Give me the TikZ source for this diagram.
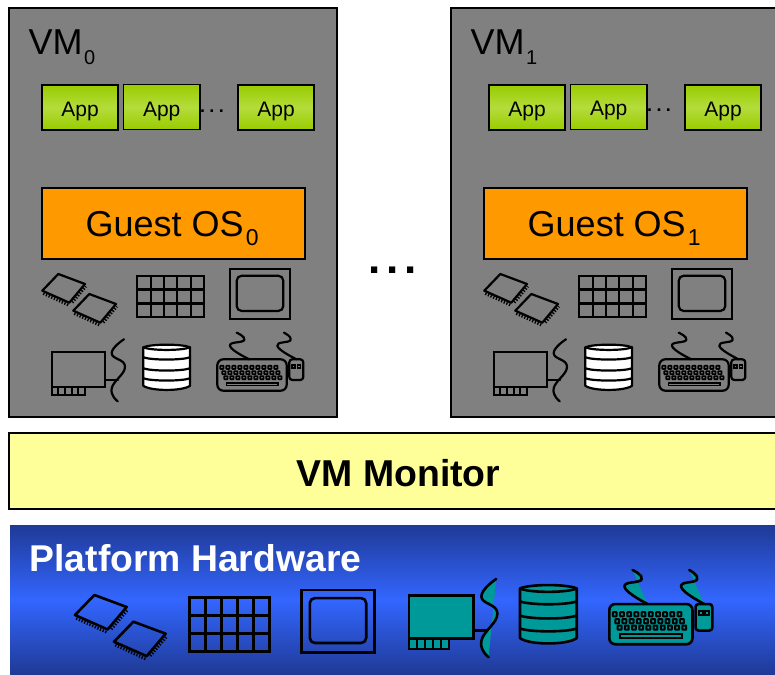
\documentclass[tikz,border=0pt]{standalone}
\usepackage{fontspec}
\setmainfont{Liberation Sans}
\definecolor{vmgray}{HTML}{808080}
\definecolor{osorange}{HTML}{FF9900}
\definecolor{monyellow}{HTML}{FFFF99}
\definecolor{appdark}{HTML}{99CC00}
\definecolor{applight}{HTML}{B4DC3C}
\definecolor{hwdark}{HTML}{1F3A96}
\definecolor{hwmid}{HTML}{3366FF}
\definecolor{hwteal}{HTML}{009999}
\tikzset{
  panel/.style={draw=black,line width=2pt,rectangle,inner sep=0pt,outer sep=0pt},
  vmbox/.style={panel,fill=vmgray,anchor=north west},
  appbox/.style={panel,line width=1.6pt,minimum width=76.5pt,minimum height=45pt,
    top color=appdark,bottom color=appdark,middle color=applight},
  apptext/.style={anchor=base,inner sep=0pt,font=\fontsize{21}{21}\selectfont},
  osbox/.style={panel,line width=1.6pt,fill=osorange,minimum width=263pt,minimum height=71pt},
  ostext/.style={anchor=base west,inner sep=0pt,font=\fontsize{36}{36}\selectfont},
  vmlabel/.style={anchor=base west,inner sep=0pt,font=\fontsize{36}{36}\selectfont},
  smalldots/.style={anchor=base,inner sep=0pt,font=\bfseries\fontsize{18}{18}\selectfont},
  icn/.style={draw=black,line width=2.2pt,line join=round,line cap=round},
  keyline/.style={draw=black,line width=1.7pt},
  solidfill/.style={},
  diskfill/.style={fill=white},
  hwicons/.style={solidfill/.style={fill=hwteal},diskfill/.style={fill=hwteal},
    icn/.style={draw=black,line width=2.6pt,line join=round,line cap=round},
    keyline/.style={draw=black,line width=2pt}}
}
\newcommand{\subfig}[3]{\hspace{#1}\raisebox{-0.27em}{\fontsize{#2}{#2}\selectfont #3}}
\newcommand{\chipicon}{%
  \draw[icn] (16,0) -- (42.7,10) -- (27,28.7) -- (0,16.7) -- cycle;
  \draw[black,line width=2.8pt,dash pattern=on 1.3pt off 1.6pt] (1,19.5) -- (26,31);
  \draw[black,line width=2.8pt,dash pattern=on 1.3pt off 1.6pt] (30,28.5) -- (43.5,12.5);
}
\newcommand{\gridicon}{%
  \draw[icn,line cap=butt,line join=miter] (0,0) rectangle (66.7,41.6);
  \foreach \i in {1,2,3,4}{\draw[icn,line cap=butt] (13.34*\i,0) -- (13.34*\i,41.6);}
  \foreach \j in {1,2}{\draw[icn,line cap=butt] (0,13.87*\j) -- (66.7,13.87*\j);}
}
\newcommand{\monicon}{%
  \draw[icn,line join=miter] (0,0) rectangle (60,49.4);
  \draw[icn,rounded corners=5pt] (6.7,6.4) rectangle (53.3,41.7);
}
\newcommand{\nicicon}{%
  \draw[icn,solidfill,line join=miter] (0,13) rectangle (53.3,47.4);
  \draw[icn,solidfill,line join=miter] (0,47.4) rectangle (33.3,55.7);
  \foreach \i in {1,2,3,4}{\draw[icn,line cap=butt] (6.66*\i,47.4) -- (6.66*\i,55.7);}
  \draw[icn] (53.3,40.7) -- (66.3,40.7);
  \draw[icn,solidfill] plot[smooth,tension=0.8] coordinates {(72.3,0) (60,14) (73.3,27.4) (60,49) (66,62)};
}
\newcommand{\diskicon}{%
  \draw[icn,diskfill] (0,5) .. controls (8,1.5) and (38.7,1.5) .. (46.7,5) -- (46.7,43.5)
    .. controls (38.7,49) and (8,49) .. (0,43.5) -- cycle;
  \draw[icn] (0,5) .. controls (8,8.5) and (38.7,8.5) .. (46.7,5);
  \foreach \y in {15,26,36}{\draw[icn] (0,\y) .. controls (8,\y+3) and (38.7,\y+3) .. (46.7,\y);}
}
\newcommand{\kbdicon}{%
  \draw[icn,solidfill] plot[smooth,tension=0.9] coordinates {(19.4,0) (27,7.3) (12.7,13.3) (32,26.6)};
  \draw[icn,solidfill] plot[smooth,tension=0.9] coordinates {(66.7,0) (73.3,7.3) (60,13.3) (79.3,26.6)};
  \draw[icn,solidfill,rounded corners=6pt] (0,26.6) rectangle (69.4,58);
  \foreach \n/\oy/\ox in {0/34.6/3,1/40/5,2/45/7}{
    \foreach \i in {0,...,9}{
      \draw[keyline,solidfill,rounded corners=0.5pt] (\ox+6*\i,\oy-1.6) rectangle ++(3.2,3.2);
    }
  }
  \draw[keyline,solidfill] (9.3,50) rectangle (60.7,52.8);
  \draw[icn,solidfill,rounded corners=3pt] (72,26.6) rectangle (86,47.3);
  \draw[keyline] (74.8,32) rectangle ++(3,3) (80.2,32) rectangle ++(3,3);
}
\newcommand{\vmicons}{%
  \begin{scope}[shift={(42.3,274)}]\chipicon\end{scope}
  \begin{scope}[shift={(73.3,294)}]\chipicon\end{scope}
  \begin{scope}[shift={(137.3,275.7)}]\gridicon\end{scope}
  \begin{scope}[shift={(230,269.3)}]\monicon\end{scope}
  \begin{scope}[shift={(51.7,339.3)}]\nicicon\end{scope}
  \begin{scope}[shift={(143.3,342.3)}]\diskicon\end{scope}
  \begin{scope}[shift={(217.3,332.7)}]\kbdicon\end{scope}
}
\begin{document}
\begin{tikzpicture}[x=1pt,y=-1pt]
\useasboundingbox (0,0) rectangle (775,674);
\clip (0,0) rectangle (775,674);
\fill[white] (0,0) rectangle (775,674);

% VM 0
\node[vmbox,minimum width=328pt,minimum height=409pt] (vm0) at (9,8) {};
\node[vmlabel] (vm0label) at (28.5,55) {VM\subfig{1.5pt}{20}{0}};
\node[appbox] (app0a) at (80,107.5) {};
\node[appbox] (app0b) at (161.7,107) {};
\node[appbox] (app0c) at (276,107.5) {};
\node[apptext] (app0at) at (80,116) {App};
\node[apptext] (app0bt) at (161.7,116) {App};
\node[apptext] (app0ct) at (276,116) {App};
\node[smalldots] (dots0) at (212,112) {.\hspace{4.4pt}.\hspace{4.4pt}.};
\node[osbox] (os0) at (173.5,223.5) {};
\node[ostext] (os0t) at (85.5,236) {Guest OS\subfig{2pt}{23}{0}};
\vmicons

% VM 1
\node[vmbox,minimum width=340pt,minimum height=409pt] (vm1) at (451,8) {};
\node[vmlabel] (vm1label) at (470.5,55) {VM\subfig{1.5pt}{20}{1}};
\node[appbox] (app1a) at (527,107.5) {};
\node[appbox] (app1b) at (608.7,107) {};
\node[appbox] (app1c) at (723,107.5) {};
\node[apptext] (app1at) at (527,116) {App};
\node[apptext] (app1bt) at (608.7,115) {App};
\node[apptext] (app1ct) at (723,116) {App};
\node[smalldots] (dots1) at (659,111) {.\hspace{4.4pt}.\hspace{4.4pt}.};
\node[osbox] (os1) at (615.5,223.5) {};
\node[ostext] (os1t) at (527.5,236) {Guest OS\subfig{2pt}{23}{1}};
\begin{scope}[shift={(442,0)}]\vmicons\end{scope}

% centre dots
\node[anchor=base,inner sep=0pt,font=\bfseries\fontsize{44}{44}\selectfont] (bigdots) at (392.5,273) {.\hspace{5.5pt}.\hspace{5.5pt}.};

% Monitor
\node[panel,fill=monyellow,anchor=north west,minimum width=780pt,minimum height=76pt] (mon) at (9,433) {};
\node[inner sep=0pt,anchor=base,font=\bfseries\fontsize{37.4}{37.4}\selectfont] (monlabel) at (398.5,486) {VM Monitor};

% Platform
\node[rectangle,inner sep=0pt,outer sep=0pt,anchor=north west,minimum width=775pt,minimum height=149pt,
  top color=hwdark,bottom color=hwdark,middle color=hwmid] (hw) at (10,525) {};
\node[anchor=base west,inner sep=0pt,text=white,font=\bfseries\fontsize{37.3}{37.3}\selectfont] (hwlabel) at (29.5,571) {Platform Hardware};

\begin{scope}[hwicons]
  \begin{scope}[shift={(75,595)},xscale=1.21,yscale=1.2]\chipicon\end{scope}
  \begin{scope}[shift={(114,621.7)},xscale=1.21,yscale=1.2]\chipicon\end{scope}
  \begin{scope}[shift={(189.3,597.7)},xscale=1.2,yscale=1.3]\gridicon\end{scope}
  \begin{scope}[shift={(301.7,590)},xscale=1.21,yscale=1.27]\monicon\end{scope}
  \begin{scope}[shift={(409,579)},xscale=1.206,yscale=1.26]\nicicon\end{scope}
  \begin{scope}[shift={(520,582)},xscale=1.214,yscale=1.29]\diskicon\end{scope}
  \begin{scope}[shift={(609.3,570)},xscale=1.198,yscale=1.28]\kbdicon\end{scope}
\end{scope}
\end{tikzpicture}
\end{document}
